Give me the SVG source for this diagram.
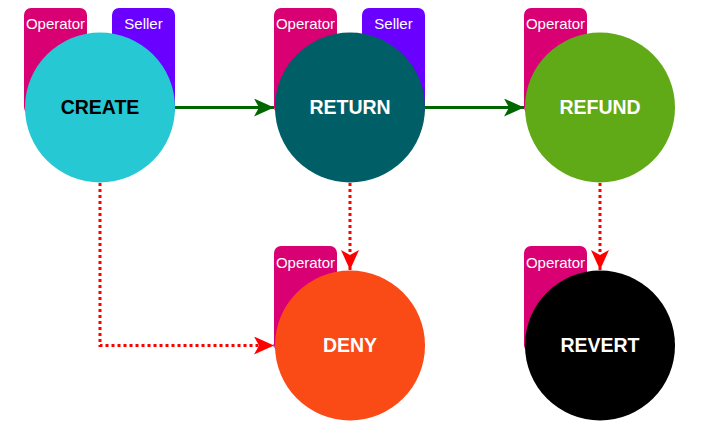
<svg xmlns="http://www.w3.org/2000/svg" width="705" height="433" viewBox="0 0 705 433">
<defs>
<style>
.tagtxt{font-family:"Liberation Sans",Arial,sans-serif;font-size:15px;fill:#ffffff;text-anchor:middle}
.lbl{font-family:"Liberation Sans",Arial,sans-serif;font-size:19.5px;font-weight:bold;text-anchor:middle}
.op{fill:#d80073}
.sel{fill:#6a00ff}
.green{fill:none;stroke:#006600;stroke-width:3}
.red{fill:none;stroke:#ff0000;stroke-width:3;stroke-dasharray:3 3}
</style>
<marker id="ag" markerUnits="userSpaceOnUse" viewBox="0 0 20 18" refX="20" refY="9" markerWidth="20" markerHeight="18" orient="auto">
<path d="M0,0 L20,9 L0,18 L5,9 Z" fill="#006600"/>
</marker>
<marker id="ar" markerUnits="userSpaceOnUse" viewBox="0 0 20 18" refX="20" refY="9" markerWidth="20" markerHeight="18" orient="auto">
<path d="M0,0 L20,9 L0,18 L5,9 Z" fill="#ff0000"/>
</marker>
</defs>
<rect width="705" height="433" fill="#ffffff"/>
<g id="connectors">
<path class="green" d="M175,107.5 L274,107.5" marker-end="url(#ag)"/>
<path class="green" d="M425,107.5 L524,107.5" marker-end="url(#ag)"/>
<path class="red" d="M100,183 L100,345.5 L274,345.5" marker-end="url(#ar)"/>
<path class="red" d="M350,183 L350,270" marker-end="url(#ar)"/>
<path class="red" d="M600,183 L600,270" marker-end="url(#ar)"/>
</g>
<g id="create">
<rect class="op" x="24" y="8" width="63" height="106" rx="7"/>
<text class="tagtxt" x="55.5" y="29">Operator</text>
<rect class="sel" x="112" y="8" width="63" height="108" rx="7"/>
<text class="tagtxt" x="143.5" y="29">Seller</text>
<circle cx="100" cy="107.5" r="75" fill="#26c9d3"/>
<text class="lbl" x="100" y="114" fill="#000000">CREATE</text>
</g>
<g id="return">
<rect class="op" x="274" y="8" width="63" height="106" rx="7"/>
<text class="tagtxt" x="305.5" y="29">Operator</text>
<rect class="sel" x="362" y="8" width="63" height="108" rx="7"/>
<text class="tagtxt" x="393.5" y="29">Seller</text>
<circle cx="350" cy="107.5" r="75" fill="#005f66"/>
<text class="lbl" x="350" y="114" fill="#ffffff">RETURN</text>
</g>
<g id="refund">
<rect class="op" x="524" y="8" width="63" height="106" rx="7"/>
<text class="tagtxt" x="555.5" y="29">Operator</text>
<circle cx="600" cy="107.5" r="75" fill="#60a917"/>
<text class="lbl" x="600" y="114" fill="#ffffff">REFUND</text>
</g>
<g id="deny">
<rect class="op" x="274" y="246" width="63" height="106" rx="7"/>
<text class="tagtxt" x="305.5" y="268">Operator</text>
<circle cx="350" cy="345.5" r="75" fill="#fa4a16"/>
<text class="lbl" x="350" y="352" fill="#ffffff">DENY</text>
</g>
<g id="revert">
<rect class="op" x="524" y="246" width="63" height="106" rx="7"/>
<text class="tagtxt" x="555.5" y="268">Operator</text>
<circle cx="600" cy="345.5" r="75" fill="#000000"/>
<text class="lbl" x="600" y="352" fill="#ffffff">REVERT</text>
</g>
</svg>
